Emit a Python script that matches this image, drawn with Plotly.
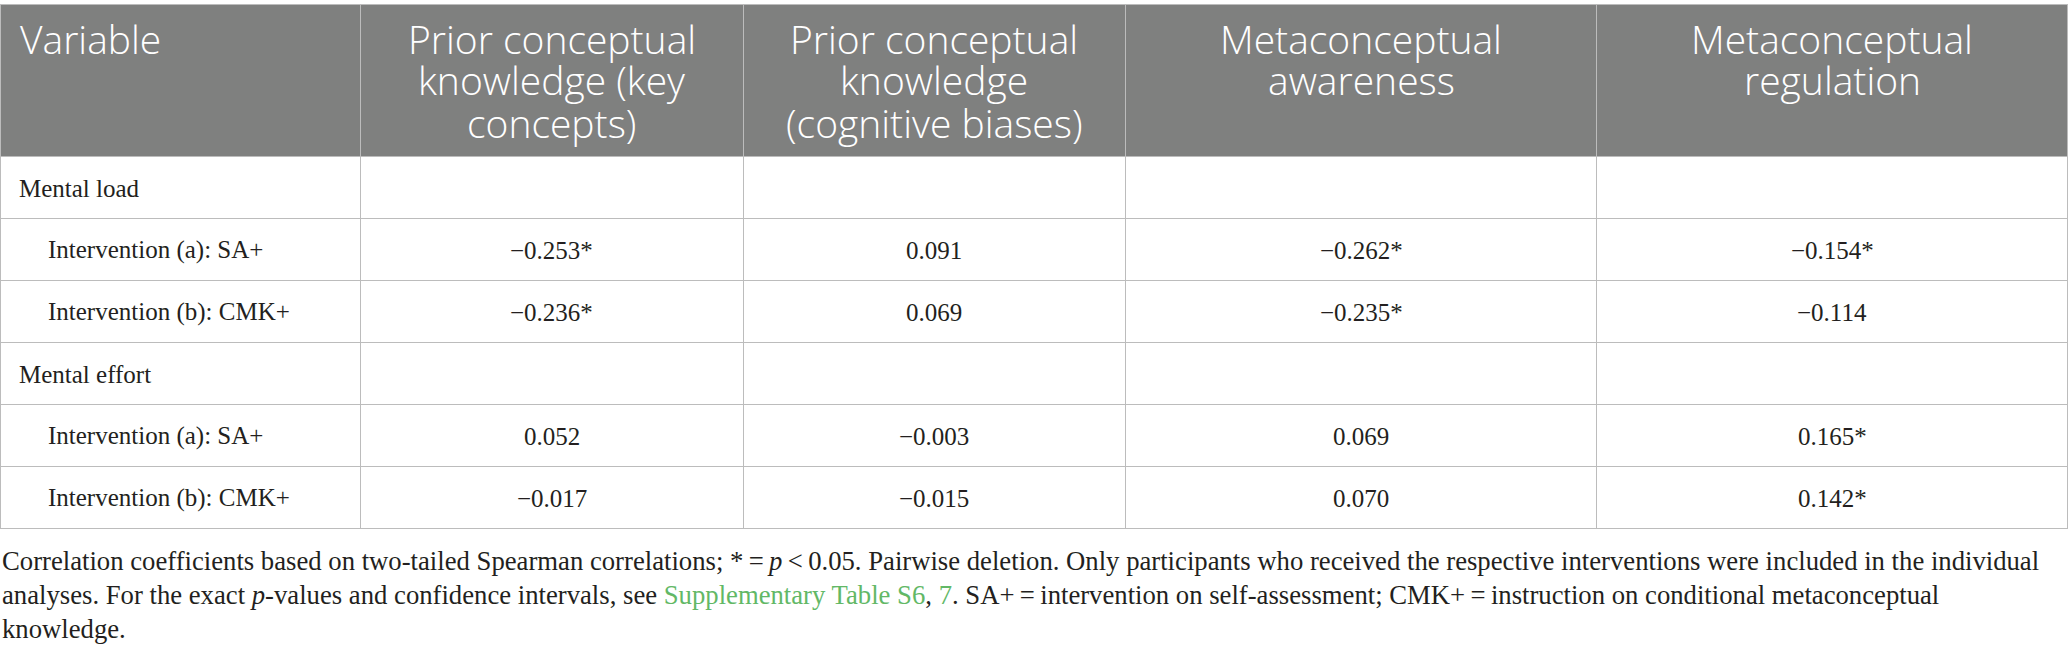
import plotly.graph_objects as go

# table content
header_lines = [["Variable"],
                ["Prior conceptual", "knowledge (key", "concepts)"],
                ["Prior conceptual", "knowledge", "(cognitive biases)"],
                ["Metaconceptual", "awareness"],
                ["Metaconceptual", "regulation"]]

row_labels = ["Mental load",
              "Intervention (a): SA+",
              "Intervention (b): CMK+",
              "Mental effort",
              "Intervention (a): SA+",
              "Intervention (b): CMK+"]
row_indent = [0, 1, 1, 0, 1, 1]

key_concepts = ["", "\u22120.253*", "\u22120.236*", "", "0.052", "\u22120.017"]
cognitive_biases = ["", "0.091", "0.069", "", "\u22120.003", "\u22120.015"]
meta_awareness = ["", "\u22120.262*", "\u22120.235*", "", "0.069", "0.070"]
meta_regulation = ["", "\u22120.154*", "\u22120.114", "", "0.165*", "0.142*"]

column_widths = [360, 383, 382, 471, 471]

footnote_lines = [
    "Correlation coefficients based on two-tailed Spearman correlations; *\u2009=\u2009<i>p</i>\u2009<\u20090.05. "
    "Pairwise deletion. Only participants who received the respective interventions were included in the individual",
    "analyses. For the exact <i>p</i>-values and confidence intervals, see "
    "<span style='color:#62b866'>Supplementary Table S6</span>, <span style='color:#62b866'>7</span>. "
    "SA+\u2009=\u2009intervention on self-assessment; CMK+\u2009=\u2009instruction on conditional metaconceptual",
    "knowledge.",
]

W, H = 2068, 654
TOP = 4          # table starts a few px below the page top
HEADER_H = 152
ROW_H = 62
HEADER_COLOR = "#7f807f"
LINE_COLOR = "#bcbcbc"
TEXT_COLOR = "#231f20"
SERIF = "Liberation Serif"

n_rows = len(row_labels)
body_cols = [key_concepts, cognitive_biases, meta_awareness, meta_regulation]

# the table draws the grid and fills; text is put on top with annotations
# so it can be centred vertically in the rows (plotly tables top-align text)
fig = go.Figure(go.Table(
    columnwidth=column_widths,
    header=dict(values=[""] * len(header_lines),
                fill_color=HEADER_COLOR,
                line_color=LINE_COLOR,
                height=HEADER_H),
    cells=dict(values=[[""] * n_rows for _ in header_lines],
               fill_color="white",
               line_color=LINE_COLOR,
               height=ROW_H),
    domain=dict(x=[0, 1], y=[0, 1 - TOP / H]),
))

total_w = sum(column_widths)
col_left = [sum(column_widths[:i]) for i in range(len(column_widths))]
col_mid = [(l + w / 2) / total_w for l, w in zip(col_left, column_widths)]


def py(y_px):
    return 1 - y_px / H


# header text, one annotation per line so every line is centred
for i, lines in enumerate(header_lines):
    for j, line in enumerate(lines):
        yy = TOP + 34 + 42 * j
        if i == 0:
            x, xanchor = 18 / total_w, "left"
        else:
            x, xanchor = col_mid[i], "center"
        fig.add_annotation(text=line, xref="paper", yref="paper", x=x, y=py(yy),
                           xanchor=xanchor, yanchor="middle", showarrow=False,
                           font=dict(family="Open Sans", size=39, color="white", weight=300))

# body text
for r in range(n_rows):
    yy = TOP + HEADER_H + ROW_H * (r + 0.5) + 1
    x0 = (46 if row_indent[r] else 17) / total_w
    fig.add_annotation(text=row_labels[r], xref="paper", yref="paper", x=x0, y=py(yy),
                       xanchor="left", yanchor="middle", showarrow=False,
                       font=dict(family=SERIF, size=25, color=TEXT_COLOR))
    for c, col in enumerate(body_cols):
        if not col[r]:
            continue
        fig.add_annotation(text=col[r], xref="paper", yref="paper", x=col_mid[c + 1], y=py(yy),
                           xanchor="center", yanchor="middle", showarrow=False,
                           font=dict(family=SERIF, size=25, color=TEXT_COLOR))

# footnote
line_y = [561, 595, 629]
for txt, yy in zip(footnote_lines, line_y):
    fig.add_annotation(text=txt, xref="paper", yref="paper", x=0, y=py(yy),
                       xanchor="left", yanchor="middle", showarrow=False, align="left",
                       font=dict(family=SERIF, size=26.7, color=TEXT_COLOR))

fig.update_layout(width=W, height=H, margin=dict(l=0, r=0, t=0, b=0),
                  paper_bgcolor="white", plot_bgcolor="white")

fig.write_html("out.html", config={"displayModeBar": False},
               post_script="document.body.style.margin='0';")
